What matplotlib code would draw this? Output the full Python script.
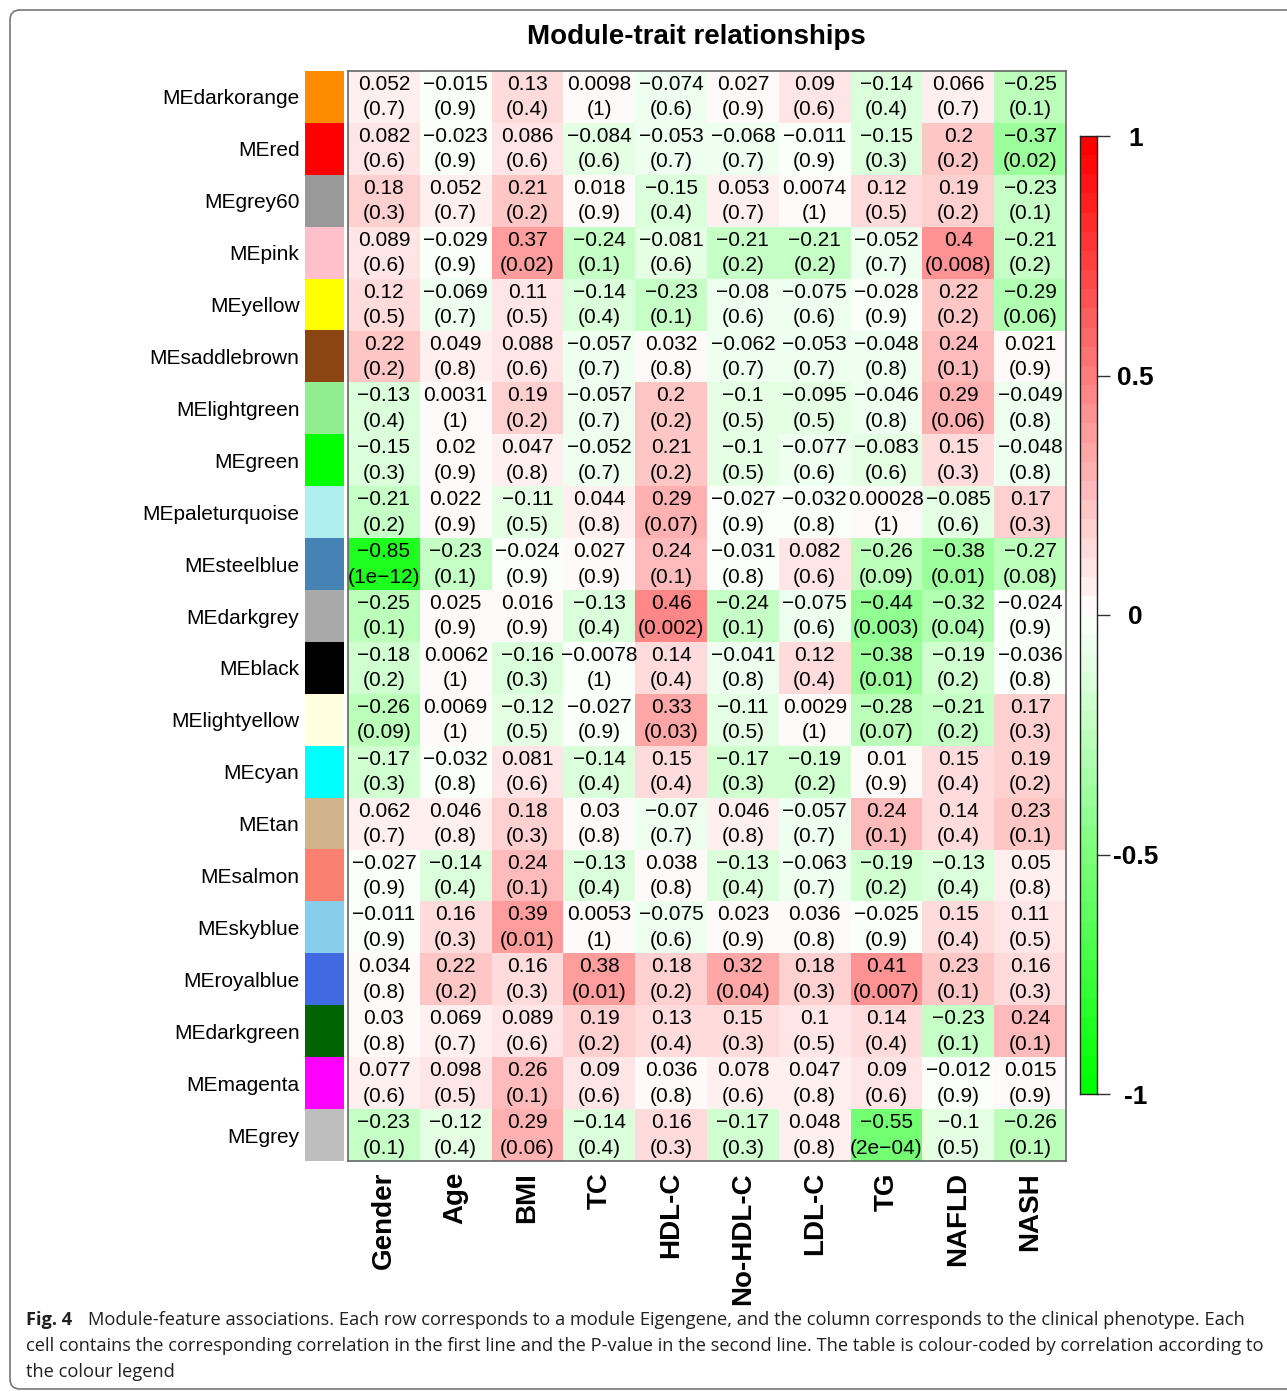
import numpy as np
import matplotlib
matplotlib.use("Agg")
import matplotlib.pyplot as plt
from matplotlib.colors import LinearSegmentedColormap, ListedColormap
from matplotlib.patches import FancyBboxPatch
from matplotlib.transforms import IdentityTransform

modules = ["MEdarkorange", "MEred", "MEgrey60", "MEpink", "MEyellow", "MEsaddlebrown",
           "MElightgreen", "MEgreen", "MEpaleturquoise", "MEsteelblue", "MEdarkgrey",
           "MEblack", "MElightyellow", "MEcyan", "MEtan", "MEsalmon", "MEskyblue",
           "MEroyalblue", "MEdarkgreen", "MEmagenta", "MEgrey"]
# R colour names for the module eigengenes
module_colors = ["#FF8C00", "#FF0000", "#999999", "#FFC0CB", "#FFFF00", "#8B4513",
                 "#90EE90", "#00FF00", "#AFEEEE", "#4682B4", "#A9A9A9",
                 "#000000", "#FFFFE0", "#00FFFF", "#D2B48C", "#FA8072", "#87CEEB",
                 "#4169E1", "#006400", "#FF00FF", "#BEBEBE"]
traits = ["Gender", "Age", "BMI", "TC", "HDL-C", "No-HDL-C", "LDL-C", "TG", "NAFLD", "NASH"]

corr = np.array([
    [0.052, -0.015, 0.13, 0.0098, -0.074, 0.027, 0.09, -0.14, 0.066, -0.25],
    [0.082, -0.023, 0.086, -0.084, -0.053, -0.068, -0.011, -0.15, 0.2, -0.37],
    [0.18, 0.052, 0.21, 0.018, -0.15, 0.053, 0.0074, 0.12, 0.19, -0.23],
    [0.089, -0.029, 0.37, -0.24, -0.081, -0.21, -0.21, -0.052, 0.4, -0.21],
    [0.12, -0.069, 0.11, -0.14, -0.23, -0.08, -0.075, -0.028, 0.22, -0.29],
    [0.22, 0.049, 0.088, -0.057, 0.032, -0.062, -0.053, -0.048, 0.24, 0.021],
    [-0.13, 0.0031, 0.19, -0.057, 0.2, -0.1, -0.095, -0.046, 0.29, -0.049],
    [-0.15, 0.02, 0.047, -0.052, 0.21, -0.1, -0.077, -0.083, 0.15, -0.048],
    [-0.21, 0.022, -0.11, 0.044, 0.29, -0.027, -0.032, 0.00028, -0.085, 0.17],
    [-0.85, -0.23, -0.024, 0.027, 0.24, -0.031, 0.082, -0.26, -0.38, -0.27],
    [-0.25, 0.025, 0.016, -0.13, 0.46, -0.24, -0.075, -0.44, -0.32, -0.024],
    [-0.18, 0.0062, -0.16, -0.0078, 0.14, -0.041, 0.12, -0.38, -0.19, -0.036],
    [-0.26, 0.0069, -0.12, -0.027, 0.33, -0.11, 0.0029, -0.28, -0.21, 0.17],
    [-0.17, -0.032, 0.081, -0.14, 0.15, -0.17, -0.19, 0.01, 0.15, 0.19],
    [0.062, 0.046, 0.18, 0.03, -0.07, 0.046, -0.057, 0.24, 0.14, 0.23],
    [-0.027, -0.14, 0.24, -0.13, 0.038, -0.13, -0.063, -0.19, -0.13, 0.05],
    [-0.011, 0.16, 0.39, 0.0053, -0.075, 0.023, 0.036, -0.025, 0.15, 0.11],
    [0.034, 0.22, 0.16, 0.38, 0.18, 0.32, 0.18, 0.41, 0.23, 0.16],
    [0.03, 0.069, 0.089, 0.19, 0.13, 0.15, 0.1, 0.14, -0.23, 0.24],
    [0.077, 0.098, 0.26, 0.09, 0.036, 0.078, 0.047, 0.09, -0.012, 0.015],
    [-0.23, -0.12, 0.29, -0.14, 0.16, -0.17, 0.048, -0.55, -0.1, -0.26],
])

pvals = np.array([
    [0.7, 0.9, 0.4, 1, 0.6, 0.9, 0.6, 0.4, 0.7, 0.1],
    [0.6, 0.9, 0.6, 0.6, 0.7, 0.7, 0.9, 0.3, 0.2, 0.02],
    [0.3, 0.7, 0.2, 0.9, 0.4, 0.7, 1, 0.5, 0.2, 0.1],
    [0.6, 0.9, 0.02, 0.1, 0.6, 0.2, 0.2, 0.7, 0.008, 0.2],
    [0.5, 0.7, 0.5, 0.4, 0.1, 0.6, 0.6, 0.9, 0.2, 0.06],
    [0.2, 0.8, 0.6, 0.7, 0.8, 0.7, 0.7, 0.8, 0.1, 0.9],
    [0.4, 1, 0.2, 0.7, 0.2, 0.5, 0.5, 0.8, 0.06, 0.8],
    [0.3, 0.9, 0.8, 0.7, 0.2, 0.5, 0.6, 0.6, 0.3, 0.8],
    [0.2, 0.9, 0.5, 0.8, 0.07, 0.9, 0.8, 1, 0.6, 0.3],
    [1e-12, 0.1, 0.9, 0.9, 0.1, 0.8, 0.6, 0.09, 0.01, 0.08],
    [0.1, 0.9, 0.9, 0.4, 0.002, 0.1, 0.6, 0.003, 0.04, 0.9],
    [0.2, 1, 0.3, 1, 0.4, 0.8, 0.4, 0.01, 0.2, 0.8],
    [0.09, 1, 0.5, 0.9, 0.03, 0.5, 1, 0.07, 0.2, 0.3],
    [0.3, 0.8, 0.6, 0.4, 0.4, 0.3, 0.2, 0.9, 0.4, 0.2],
    [0.7, 0.8, 0.3, 0.8, 0.7, 0.8, 0.7, 0.1, 0.4, 0.1],
    [0.9, 0.4, 0.1, 0.4, 0.8, 0.4, 0.7, 0.2, 0.4, 0.8],
    [0.9, 0.3, 0.01, 1, 0.6, 0.9, 0.8, 0.9, 0.4, 0.5],
    [0.8, 0.2, 0.3, 0.01, 0.2, 0.04, 0.3, 0.007, 0.1, 0.3],
    [0.8, 0.7, 0.6, 0.2, 0.4, 0.3, 0.5, 0.4, 0.1, 0.1],
    [0.6, 0.5, 0.1, 0.6, 0.8, 0.6, 0.8, 0.6, 0.9, 0.9],
    [0.1, 0.4, 0.06, 0.4, 0.3, 0.3, 0.8, 2e-04, 0.5, 0.1],
])

caption_lines = [
    "Module-feature associations. Each row corresponds to a module Eigengene, and the column corresponds to the clinical phenotype. Each",
    "cell contains the corresponding correlation in the first line and the P-value in the second line. The table is colour-coded by correlation according to",
    "the colour legend",
]

W, H, DPI = 1287, 1393, 100
plt.rcParams['font.family'] = ['Liberation Sans', 'DejaVu Sans']

# green-white-red palette with 50 steps, as in WGCNA
gwr = LinearSegmentedColormap.from_list("gwr", ["#00FF00", "#FFFFFF", "#FF0000"], N=50)


def fmt_r(v):
    return f"{v:.2g}".replace("-", "\u2212")


def fmt_p(p):
    # R prints very small p-values in scientific notation
    s = f"{p:.0e}" if p < 1e-3 else f"{p:.1g}"
    return "(" + s.replace("-", "\u2212") + ")"


fig = plt.figure(figsize=(W / DPI, H / DPI), dpi=DPI)


def px_axes(x0, y0, x1, y1):
    return fig.add_axes([x0 / W, 1 - y1 / H, (x1 - x0) / W, (y1 - y0) / H])


nr, nc = corr.shape

# heatmap
ax = px_axes(348, 71, 1066, 1161)
ax.pcolormesh(np.arange(nc + 1), np.arange(nr + 1), corr, cmap=gwr, vmin=-1, vmax=1)
ax.set_xlim(0, nc)
ax.set_ylim(nr, 0)
for i in range(nr):
    for j in range(nc):
        ax.text(j + 0.5, i + 0.26, fmt_r(corr[i, j]), ha='center', va='center', fontsize=15)
        ax.text(j + 0.5, i + 0.75, fmt_p(pvals[i, j]), ha='center', va='center', fontsize=15)
ax.set_yticks([])
ax.set_xticks(np.arange(nc) + 0.5)
ax.set_xticklabels(traits, rotation=90, fontsize=20, fontweight='bold')
ax.tick_params(axis='x', length=0, pad=8)
for s in ax.spines.values():
    s.set_color('#666666')
    s.set_linewidth(1.2)

# module colour strip
axm = px_axes(305, 71, 344, 1161)
axm.imshow(np.arange(nr)[:, None], cmap=ListedColormap(module_colors), aspect='auto',
           extent=(0, 1, nr, 0), interpolation='nearest')
axm.set_xticks([])
axm.set_yticks(np.arange(nr) + 0.5)
axm.set_yticklabels(modules, fontsize=15)
axm.tick_params(axis='y', length=0, pad=4)
for s in axm.spines.values():
    s.set_visible(False)

# colour legend
axc = px_axes(1080, 136, 1097, 1094)
edges = np.linspace(-1, 1, 51)
axc.pcolormesh([0, 1], edges, ((edges[:-1] + edges[1:]) / 2)[:, None], cmap=gwr, vmin=-1, vmax=1)
axc.set_xlim(0, 1)
axc.set_ylim(-1, 1)
axc.set_xticks([])
axc.yaxis.tick_right()
axc.set_yticks([-1, -0.5, 0, 0.5, 1])
axc.set_yticklabels(["-1", "-0.5", "0", "0.5", "1"], fontsize=19, fontweight='bold')
for lbl in axc.get_yticklabels():
    lbl.set_ha('center')
axc.tick_params(axis='y', length=9.5, width=1, color='#333333', pad=18)
for s in axc.spines.values():
    s.set_color('#222222')
    s.set_linewidth(1)

fig.text(696 / W, 1 - 37 / H, "Module-trait relationships", ha='center', va='center',
         fontsize=20, fontweight='bold')

# panel frame
frame = FancyBboxPatch((10, 4), 1300, H - 14, boxstyle="round,pad=0,rounding_size=10",
                       transform=IdentityTransform(), fill=False, edgecolor='#777777',
                       linewidth=1.2, figure=fig)
fig.patches.append(frame)

# caption
cap_font = ['Open Sans', 'DejaVu Sans']
cap_size = 13.15
fig.text(26 / W, 1 - 1320 / H, "Fig. 4", ha='left', va='center', fontsize=cap_size,
         fontweight='bold', family=cap_font, color='#231f20')
fig.text(88 / W, 1 - 1320 / H, caption_lines[0], ha='left', va='center', fontsize=cap_size,
         family=cap_font, color='#231f20')
fig.text(26 / W, 1 - 1346 / H, caption_lines[1], ha='left', va='center', fontsize=cap_size,
         family=cap_font, color='#231f20')
fig.text(26 / W, 1 - 1372 / H, caption_lines[2], ha='left', va='center', fontsize=cap_size,
         family=cap_font, color='#231f20')

fig.savefig("out.png", dpi=DPI)
